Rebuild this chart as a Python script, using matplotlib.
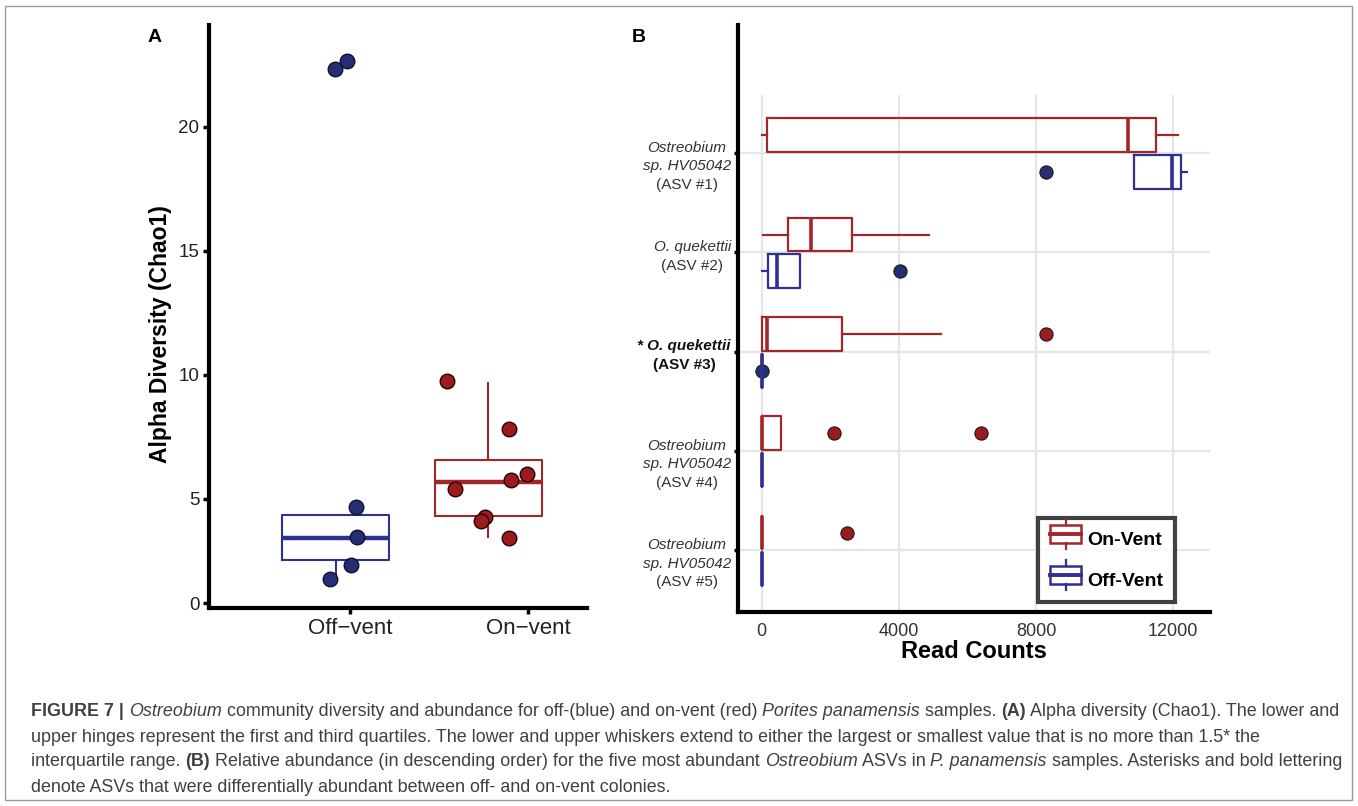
import numpy as np
import matplotlib.pyplot as plt
from matplotlib.patches import Rectangle
from matplotlib.lines import Line2D
from matplotlib.legend_handler import HandlerBase

W, H = 1358, 806
plt.rcParams['font.family'] = ['Liberation Sans', 'DejaVu Sans']

RED = '#a3262a'
RED_PT = '#9b1b1f'
BLUE = '#2e3192'
BLUE_PT = '#262e73'

# ---------------- panel A data: Chao1 per sample ----------------
groups = ['Off\u2212vent', 'On\u2212vent']
off_chao1 = [22.34, 22.66, 4.68, 3.47, 2.34, 1.77]
on_chao1 = [9.76, 7.82, 6.00, 5.77, 5.40, 4.27, 4.10, 3.43]
off_jit = [-0.004, 0.063, 0.114, 0.119, 0.086, -0.032]
on_jit = [-0.230, 0.118, 0.219, 0.129, -0.185, -0.017, -0.039, 0.118]
# box stats (whislo, q1, med, q3, whishi)
off_box = [1.77, 2.54, 3.43, 4.35, 4.35]
on_box = [3.47, 4.31, 5.69, 6.57, 9.68]

# ---------------- panel B data: read counts per ASV ----------------
asv_lines = [
    [("Ostreobium", 'italic', 'normal'), ("sp. HV05042", 'italic', 'normal'), ("(ASV #1)", 'normal', 'normal')],
    [("O. quekettii", 'italic', 'normal'), ("(ASV #2)", 'normal', 'normal')],
    [("* O. quekettii", 'italic', 'bold'), ("(ASV #3)", 'normal', 'bold')],
    [("Ostreobium", 'italic', 'normal'), ("sp. HV05042", 'italic', 'normal'), ("(ASV #4)", 'normal', 'normal')],
    [("Ostreobium", 'italic', 'normal'), ("sp. HV05042", 'italic', 'normal'), ("(ASV #5)", 'normal', 'normal')],
]
# (whislo, q1, med, q3, whishi) and outliers
on_vent_box = [[0, 165, 10670, 11500, 12150],
               [30, 758, 1448, 2643, 4888],
               [0, 0, 146, 2332, 5219],
               [0, 0, 0, 554, 554],
               [0, 0, 0, 0, 0]]
on_vent_out = [[], [], [8300], [2119, 6404], [2488]]
off_vent_box = [[10855, 10855, 11963, 12216, 12410],
                [0, 194, 457, 1108, 1108],
                [0, 0, 0, 0, 0],
                [0, 0, 0, 0, 0],
                [0, 0, 0, 0, 0]]
off_vent_out = [[8280], [4033], [0], [], []]
read_ticks = [0, 4000, 8000, 12000]


def stats(b, fl=()):
    return dict(whislo=b[0], q1=b[1], med=b[2], q3=b[3], whishi=b[4], fliers=list(fl))


fig = plt.figure(figsize=(W / 100, H / 100), dpi=100)
fig.patches.append(Rectangle((5 / W, 6 / H), 1347 / W, 794 / H, transform=fig.transFigure,
                             fill=False, ec='#9a9a9a', lw=1))
renderer = fig.canvas.get_renderer()

# ================= panel A =================
axA = fig.add_axes([209 / W, 1 - 608 / H, 378 / W, 583 / H])
for sp in ['top', 'right']:
    axA.spines[sp].set_visible(False)
for sp in ['left', 'bottom']:
    axA.spines[sp].set_linewidth(3)
centers = [0.92, 1.775]
for box, c, cen in [(off_box, BLUE, centers[0]), (on_box, RED, centers[1])]:
    axA.bxp([stats(box)], positions=[cen], widths=0.6, showcaps=False, showfliers=False,
            boxprops=dict(color=c, lw=1.5), whiskerprops=dict(color=c, lw=1.5),
            medianprops=dict(color=c, lw=3.2), manage_ticks=False)
axA.scatter(np.array(off_jit) + centers[0], off_chao1, s=110, c=BLUE_PT, ec='#111133', lw=1, zorder=5)
axA.scatter(np.array(on_jit) + centers[1], on_chao1, s=110, c=RED_PT, ec='#220000', lw=1, zorder=5)
axA.set_xlim(0.208, 2.33)
axA.set_ylim(0.6, 24.1)
axA.set_xticks([1, 2])
axA.set_xticklabels(groups, fontsize=16, color='#222222')
axA.set_yticks([0.8, 5, 10, 15, 20])
axA.set_yticklabels(['0', '5', '10', '15', '20'], fontsize=13.5, color='#222222')
axA.tick_params(length=4, width=2.5, pad=3)
axA.set_ylabel('Alpha Diversity (Chao1)', fontsize=16.5, fontweight='bold')
axA.yaxis.set_label_coords(-0.098, 0.47)
fig.text(148 / W, 1 - 37 / H, 'A', fontsize=14, fontweight='bold', va='center')

# ================= panel B =================
axB = fig.add_axes([738 / W, 1 - 612 / H, 472 / W, 587 / H])
for sp in ['top', 'right']:
    axB.spines[sp].set_visible(False)
for sp in ['left', 'bottom']:
    axB.spines[sp].set_linewidth(3)
cats = np.arange(1, len(asv_lines) + 1)
axB.set_xlim(-691, 13070)
axB.set_ylim(5.62, -0.29)
axB.vlines(read_ticks, 5.62, 0.415, color='#e6e6e6', lw=1.6, zorder=0)
axB.hlines(cats, -691, 13070, color='#e6e6e6', lw=1.6, zorder=0)

for box, out, c, off in [(on_vent_box, on_vent_out, RED, -0.18), (off_vent_box, off_vent_out, BLUE, 0.19)]:
    st = [stats(b, o) for b, o in zip(box, out)]
    axB.bxp(st, positions=cats + off, widths=0.34, orientation='horizontal', showcaps=False,
            boxprops=dict(color=c, lw=1.6), whiskerprops=dict(color=c, lw=1.6),
            medianprops=dict(color=c, lw=2.6),
            flierprops=dict(marker='o', mfc=RED_PT if c == RED else BLUE_PT, mec='#1a1a1a',
                            mew=0.8, ms=9.5, ls='none'),
            manage_ticks=False)

axB.set_xticks(read_ticks)
axB.set_xticklabels([str(v) for v in read_ticks], fontsize=13, color='#333333')
axB.set_yticks(cats)
axB.set_yticklabels([''] * len(cats))
axB.tick_params(axis='x', length=0, pad=8)
axB.tick_params(axis='y', length=3, width=2.5)
axB.set_xlabel('Read Counts', fontsize=17, fontweight='bold', labelpad=0)
fig.text(632 / W, 1 - 37 / H, 'B', fontsize=14, fontweight='bold', va='center')

# category labels (mixed styles, block right-aligned, lines centred)
ytr = axB.get_yaxis_transform()
for cat, lines in zip(cats, asv_lines):
    objs = []
    for i, (s, style, weight) in enumerate(lines):
        col = '#111111' if weight == 'bold' else '#333333'
        t = axB.annotate(s, xy=(0, cat), xycoords=ytr, xytext=(0, 5.5 - 18.7 * i),
                         textcoords='offset pixels', ha='center', va='center',
                         fontsize=11, style=style, fontweight=weight, color=col)
        objs.append(t)
    widths = [t.get_window_extent(renderer).width for t in objs]
    cx = (731 - 738) - max(widths) / 2
    for t in objs:
        t.xyann = (cx, t.xyann[1])


class BoxHandle(HandlerBase):
    def create_artists(self, legend, orig, xd, yd, w, h, fontsize, trans):
        c = orig.get_color()
        rect = Rectangle((xd, yd), w, h, fill=False, ec=c, lw=1.8, transform=trans)
        med = Line2D([xd, xd + w], [yd + 0.5 * h] * 2, color=c, lw=2.8, transform=trans)
        wt = Line2D([xd + w / 2] * 2, [yd + h, yd + 1.32 * h], color=c, lw=1.6, transform=trans)
        wb = Line2D([xd + w / 2] * 2, [yd, yd - 0.32 * h], color=c, lw=1.6, transform=trans)
        return [rect, med, wt, wb]


handles = [Line2D([], [], color=RED), Line2D([], [], color=BLUE)]
leg = axB.legend(handles, ['On-Vent', 'Off-Vent'], handler_map={Line2D: BoxHandle()},
                 loc='lower right', bbox_to_anchor=(0.925, 0.017), fancybox=False,
                 prop=dict(size=14, weight='bold'), handlelength=1.6, handleheight=1.05,
                 labelspacing=1.1, handletextpad=0.3, borderpad=0.6, borderaxespad=0)
leg.get_frame().set_edgecolor('#111111')
leg.get_frame().set_linewidth(3)
leg.set_zorder(10)

# ================= caption =================
CAP = '#404040'
N = dict()
B = dict(fontweight='bold')
I = dict(style='italic')
caption = [
    [("FIGURE 7 | ", B), ("Ostreobium", I), (" community diversity and abundance for off-(blue) and on-vent (red) ", N),
     ("Porites panamensis", I), (" samples. ", N), ("(A)", B), (" Alpha diversity (Chao1). The lower and", N)],
    [("upper hinges represent the first and third quartiles. The lower and upper whiskers extend to either the "
      "largest or smallest value that is no more than 1.5* the", N)],
    [("interquartile range. ", N), ("(B)", B), (" Relative abundance (in descending order) for the five most abundant ", N),
     ("Ostreobium", I), (" ASVs in ", N), ("P. panamensis", I), (" samples. Asterisks and bold lettering", N)],
    [("denote ASVs that were differentially abundant between off- and on-vent colonies.", N)],
]
cap_y = [712, 737, 762, 787]


def draw_line(x, yy, runs, size):
    objs = []
    for s, kw in runs:
        t = fig.text(x / W, 1 - yy / H, s, ha='left', va='center', fontsize=size, color=CAP, **kw)
        x += t.get_window_extent(renderer).width
        objs.append(t)
    return objs, x


# fit the first caption line to its width in the figure (31 -> 1338 px)
probe, end = draw_line(31, cap_y[0], caption[0], 12)
for t in probe:
    t.remove()
cap_size = 12 * (1338 - 31) / (end - 31)
for yy, runs in zip(cap_y, caption):
    draw_line(31, yy, runs, cap_size)

fig.savefig('out.png', dpi=100)
